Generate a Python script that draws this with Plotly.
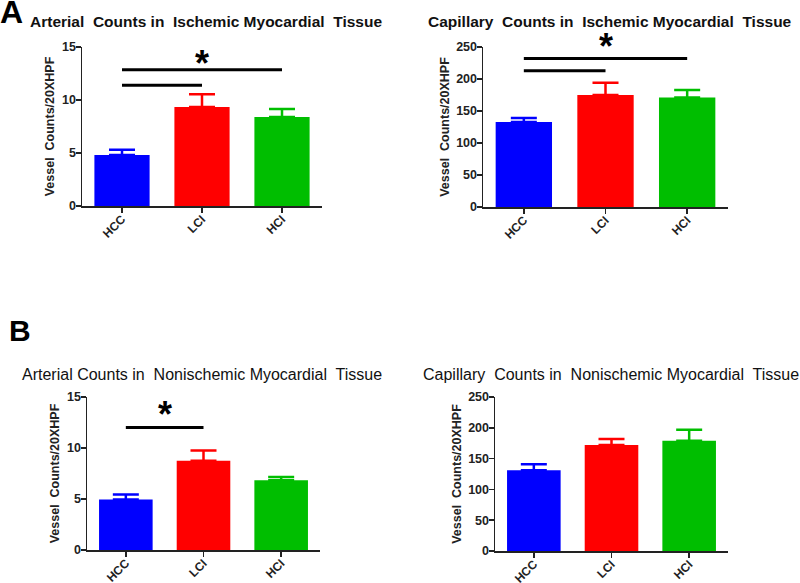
import plotly.graph_objects as go

categories = ["HCC", "LCI", "HCI"]
colors = ["#0000FF", "#FF0000", "#00BE00"]

# Panel A (ischemic)
art_isch_mean = [4.8, 9.35, 8.4]
art_isch_err = [0.5, 1.2, 0.75]
cap_isch_mean = [133, 175, 171]
cap_isch_err = [6, 19, 12]
# Panel B (nonischemic)
art_non_mean = [4.95, 8.75, 6.85]
art_non_err = [0.5, 1.0, 0.3]
cap_non_mean = [131, 172, 179]
cap_non_err = [10, 10, 18]

# significance bars: (panel, from idx, to idx, y level)
sig_bars = [
    (1, 0, 2, 12.85), (1, 0, 1, 11.4),
    (2, 0, 2, 232), (2, 0, 1, 213),
    (3, 0, 1, 12.0),
]
# stars: (panel, x position, y level)
stars = [(1, 1.0, 14.1), (2, 1.0, 262), (3, 0.5, 14.0)]

titles = [
    "Arterial  Counts in  Ischemic Myocardial  Tissue",
    "Capillary  Counts in  Ischemic Myocardial  Tissue",
    "Arterial Counts in  Nonischemic Myocardial  Tissue",
    "Capillary  Counts in  Nonischemic Myocardial  Tissue",
]
ytitle = "Vessel  Counts/20XHPF"

panels = [
    (art_isch_mean, art_isch_err, [0, 15], [0, 5, 10, 15]),
    (cap_isch_mean, cap_isch_err, [0, 250], [0, 50, 100, 150, 200, 250]),
    (art_non_mean, art_non_err, [0, 15], [0, 5, 10, 15]),
    (cap_non_mean, cap_non_err, [0, 250], [0, 50, 100, 150, 200, 250]),
]

W, H = 800, 583
px_dom = [
    ((82, 322), (47, 206)),
    ((483, 728), (47, 207)),
    ((87, 320), (397, 550)),
    ((495, 728), (397, 551)),
]
title_pos = [(30, 22), (428, 22), (22, 374), (423, 374)]


def fx(px):
    return px / W


def fy(py):
    return 1 - py / H


FONT = "Arial, Liberation Sans, sans-serif"
fig = go.Figure()
layout = dict(
    template="none",
    width=W, height=H, margin=dict(l=0, r=0, t=0, b=0, autoexpand=False),
    plot_bgcolor="white", paper_bgcolor="white", showlegend=False,
    font=dict(family=FONT, color="#222"),
)
annotations = []
shapes = []
for i, ((mean, err, rng, tv), ((x0, x1), (y0, y1))) in enumerate(zip(panels, px_dom)):
    n = i + 1
    xa = "x" if n == 1 else f"x{n}"
    ya = "y" if n == 1 else f"y{n}"
    for j, cat in enumerate(categories):
        fig.add_trace(go.Bar(
            x=[cat], y=[mean[j]], xaxis=xa, yaxis=ya, width=0.69,
            marker=dict(color=colors[j], line=dict(width=0)),
            error_y=dict(type="data", array=[err[j]], arrayminus=[0], symmetric=False,
                         color=colors[j], thickness=2.5, width=13),
            hoverinfo="skip",
        ))
    xkey = "xaxis" if n == 1 else f"xaxis{n}"
    ykey = "yaxis" if n == 1 else f"yaxis{n}"
    layout[xkey] = dict(
        domain=[fx(x0), fx(x1)], anchor=ya, range=[-0.5, 2.5], type="category",
        automargin=False, fixedrange=True,
        showline=True, linecolor="#222", linewidth=1.5, ticks="outside", ticklen=5,
        tickwidth=1.5, tickcolor="#222", tickangle=-45, showgrid=False, zeroline=False,
        ticklabelstandoff=-5,
        tickfont=dict(family=FONT, size=12, color="#222", weight="bold"),
    )
    layout[ykey] = dict(
        domain=[fy(y1), fy(y0)], anchor=xa, range=rng, tickvals=tv,
        automargin=False, fixedrange=True,
        showline=True, linecolor="#222", linewidth=1.5, ticks="outside", ticklen=5,
        tickwidth=1.5, tickcolor="#222", showgrid=False, zeroline=False,
        ticklabelstandoff=-3,
        tickfont=dict(family=FONT, size=12.5, color="#222", weight="bold"),
        title=dict(text=ytitle, font=dict(family=FONT, size=12.5, color="#222", weight="bold"), standoff=4),
    )
    bold = i < 2
    tx, ty = title_pos[i]
    annotations.append(dict(
        text=titles[i], xref="paper", yref="paper",
        x=fx(tx), y=fy(ty), xanchor="left", yanchor="middle", yshift=0, xshift=-2,
        showarrow=False,
        font=dict(family=FONT, size=15.5 if bold else 16, color="#111", weight="bold" if bold else "normal"),
    ))

panel_ranges = {i + 1: p[2] for i, p in enumerate(panels)}
for (p, a, b, lvl) in sig_bars:
    xa = "x" if p == 1 else f"x{p}"
    ya = "y" if p == 1 else f"y{p}"
    shapes.append(dict(type="line", xref=xa, yref=ya, x0=a, x1=b, y0=lvl, y1=lvl,
                       line=dict(color="black", width=3)))
for (p, xv, lvl) in stars:
    xa = "x" if p == 1 else f"x{p}"
    ya = "y" if p == 1 else f"y{p}"
    annotations.append(dict(text="*", xref=xa, yref=ya + " domain", x=xv,
                            y=lvl / panel_ranges[p][1], showarrow=False,
                            yanchor="middle", yshift=-7,
                            font=dict(family=FONT, size=36, color="black", weight="bold")))

annotations.append(dict(text="A", xref="paper", yref="paper", x=fx(0), y=fy(14),
                        xanchor="left", yanchor="middle", showarrow=False, xshift=-2, yshift=2,
                        font=dict(family=FONT, size=32, color="black", weight="bold")))
annotations.append(dict(text="B", xref="paper", yref="paper", x=fx(8), y=fy(333),
                        xanchor="left", yanchor="middle", showarrow=False, xshift=-1, yshift=3,
                        font=dict(family=FONT, size=30, color="black", weight="bold")))

layout["annotations"] = annotations
layout["shapes"] = shapes
fig.update_layout(**layout)
fig.write_html("out.html", config={"displayModeBar": False, "staticPlot": True},
               post_script="document.body.style.margin='0px';")
